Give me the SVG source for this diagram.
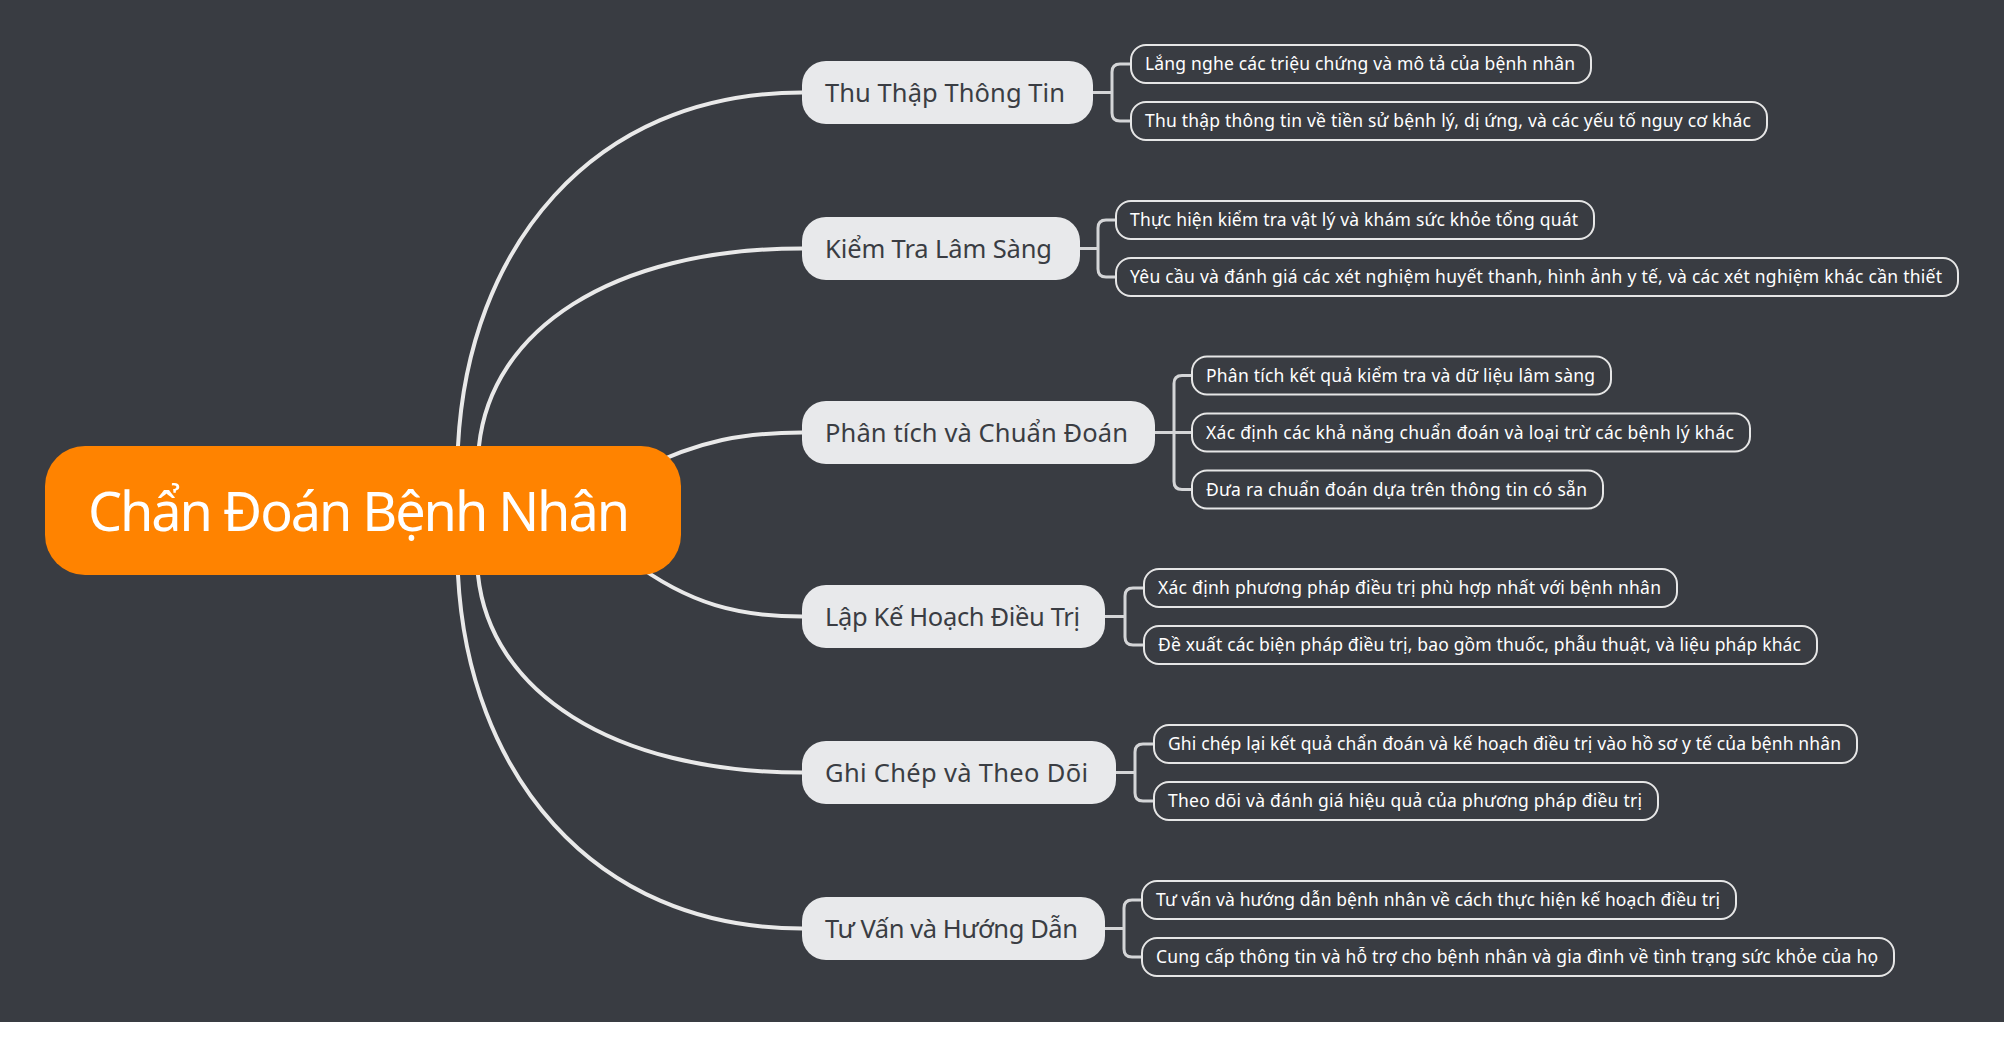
<svg xmlns="http://www.w3.org/2000/svg" width="2004" height="1037" viewBox="0 0 2004 1037">
<style>
.bg{fill:#393c42}
.root{fill:#ff8300}
.roott{fill:#ffffff;font-family:"Noto Sans","Open Sans","DejaVu Sans",sans-serif;font-size:54px}
.main{fill:#e8e9eb}
.maint{fill:#3a3d43;font-family:"Noto Sans","Open Sans","DejaVu Sans",sans-serif;font-size:25.5px}
.sub{fill:#393c42;stroke:#e6e6e6;stroke-width:2}
.subt{fill:#ffffff;font-family:"Noto Sans","Open Sans","DejaVu Sans",sans-serif;font-size:17.5px}
.c1{fill:none;stroke:#e9e9e9;stroke-width:4;stroke-linecap:round}
.c2{fill:none;stroke:#d4d5d7;stroke-width:3}
</style>
<rect class="bg" x="0" y="0" width="2004" height="1037"/>
<rect x="0" y="1022" width="2004" height="15" fill="#ffffff"/>
<g id="connectors">
<path class="c1" d="M458,470 L458,446 C468,250 590,92.5 802,92.5"/>
<path class="c1" d="M479,470 L479,446 C491,331 610,248.5 802,248.5"/>
<path class="c1" d="M640,470 C700,440 745,432.5 802,432.5"/>
<path class="c1" d="M630,560 C690,605 740,616.5 802,616.5"/>
<path class="c1" d="M478,550 L478,575 C490,690 610,772.5 802,772.5"/>
<path class="c1" d="M458,550 L458,575 C468,770 590,928.5 802,928.5"/>
<path class="c2" d="M1093,92.5 H1112 M1131,64 H1120 Q1112,64 1112,72 V113 Q1112,121 1120,121 H1131"/>
<path class="c2" d="M1080,248.5 H1098 M1116,220 H1106 Q1098,220 1098,228 V269 Q1098,277 1106,277 H1116"/>
<path class="c2" d="M1155,432.5 H1192 M1192,375.5 H1182 Q1174,375.5 1174,383.5 V481.5 Q1174,489.5 1182,489.5 H1192"/>
<path class="c2" d="M1105,616.5 H1125 M1144,588 H1133 Q1125,588 1125,596 V637 Q1125,645 1133,645 H1144"/>
<path class="c2" d="M1116,772.5 H1135 M1154,744 H1143 Q1135,744 1135,752 V793 Q1135,801 1143,801 H1154"/>
<path class="c2" d="M1105,928.5 H1124 M1142,900 H1132 Q1124,900 1124,908 V949 Q1124,957 1132,957 H1142"/>
</g>
<g id="root">
<rect class="root" x="45" y="446" width="636" height="129" rx="40"/>
<text class="roott" x="88" y="531" textLength="542">Chẩn Đoán Bệnh Nhân</text>
</g>
<g id="n1">
<rect class="main" x="802" y="61" width="291" height="63" rx="24"/>
<text class="maint" x="825" y="101.5" textLength="240">Thu Thập Thông Tin</text>
</g>
<g id="n1a">
<rect class="sub" x="1131" y="45" width="460" height="38" rx="15"/>
<text class="subt" x="1145" y="70.3" textLength="430">Lắng nghe các triệu chứng và mô tả của bệnh nhân</text>
</g>
<g id="n1b">
<rect class="sub" x="1131" y="102" width="636" height="38" rx="15"/>
<text class="subt" x="1145" y="127.3" textLength="606">Thu thập thông tin về tiền sử bệnh lý, dị ứng, và các yếu tố nguy cơ khác</text>
</g>
<g id="n2">
<rect class="main" x="802" y="217" width="278" height="63" rx="24"/>
<text class="maint" x="825" y="257.5" textLength="227">Kiểm Tra Lâm Sàng</text>
</g>
<g id="n2a">
<rect class="sub" x="1116" y="201" width="478" height="38" rx="15"/>
<text class="subt" x="1130" y="226.3" textLength="448">Thực hiện kiểm tra vật lý và khám sức khỏe tổng quát</text>
</g>
<g id="n2b">
<rect class="sub" x="1116" y="258" width="842" height="38" rx="15"/>
<text class="subt" x="1130" y="283.3" textLength="812">Yêu cầu và đánh giá các xét nghiệm huyết thanh, hình ảnh y tế, và các xét nghiệm khác cần thiết</text>
</g>
<g id="n3">
<rect class="main" x="802" y="401" width="353" height="63" rx="24"/>
<text class="maint" x="825" y="441.5" textLength="303">Phân tích và Chuẩn Đoán</text>
</g>
<g id="n3a">
<rect class="sub" x="1192" y="356.5" width="419" height="38" rx="15"/>
<text class="subt" x="1206" y="381.8" textLength="389">Phân tích kết quả kiểm tra và dữ liệu lâm sàng</text>
</g>
<g id="n3b">
<rect class="sub" x="1192" y="413.5" width="558" height="38" rx="15"/>
<text class="subt" x="1206" y="438.8" textLength="528">Xác định các khả năng chuẩn đoán và loại trừ các bệnh lý khác</text>
</g>
<g id="n3c">
<rect class="sub" x="1192" y="470.5" width="411" height="38" rx="15"/>
<text class="subt" x="1206" y="495.8" textLength="381">Đưa ra chuẩn đoán dựa trên thông tin có sẵn</text>
</g>
<g id="n4">
<rect class="main" x="802" y="585" width="303" height="63" rx="24"/>
<text class="maint" x="825" y="625.5" textLength="255">Lập Kế Hoạch Điều Trị</text>
</g>
<g id="n4a">
<rect class="sub" x="1144" y="569" width="533" height="38" rx="15"/>
<text class="subt" x="1158" y="594.3" textLength="503">Xác định phương pháp điều trị phù hợp nhất với bệnh nhân</text>
</g>
<g id="n4b">
<rect class="sub" x="1144" y="626" width="673" height="38" rx="15"/>
<text class="subt" x="1158" y="651.3" textLength="643">Đề xuất các biện pháp điều trị, bao gồm thuốc, phẫu thuật, và liệu pháp khác</text>
</g>
<g id="n5">
<rect class="main" x="802" y="741" width="314" height="63" rx="24"/>
<text class="maint" x="825" y="781.5" textLength="263">Ghi Chép và Theo Dõi</text>
</g>
<g id="n5a">
<rect class="sub" x="1154" y="725" width="703" height="38" rx="15"/>
<text class="subt" x="1168" y="750.3" textLength="673">Ghi chép lại kết quả chẩn đoán và kế hoạch điều trị vào hồ sơ y tế của bệnh nhân</text>
</g>
<g id="n5b">
<rect class="sub" x="1154" y="782" width="504" height="38" rx="15"/>
<text class="subt" x="1168" y="807.3" textLength="474">Theo dõi và đánh giá hiệu quả của phương pháp điều trị</text>
</g>
<g id="n6">
<rect class="main" x="802" y="897" width="303" height="63" rx="24"/>
<text class="maint" x="825" y="937.5" textLength="253">Tư Vấn và Hướng Dẫn</text>
</g>
<g id="n6a">
<rect class="sub" x="1142" y="881" width="594" height="38" rx="15"/>
<text class="subt" x="1156" y="906.3" textLength="564">Tư vấn và hướng dẫn bệnh nhân về cách thực hiện kế hoạch điều trị</text>
</g>
<g id="n6b">
<rect class="sub" x="1142" y="938" width="752" height="38" rx="15"/>
<text class="subt" x="1156" y="963.3" textLength="722">Cung cấp thông tin và hỗ trợ cho bệnh nhân và gia đình về tình trạng sức khỏe của họ</text>
</g>
</svg>
